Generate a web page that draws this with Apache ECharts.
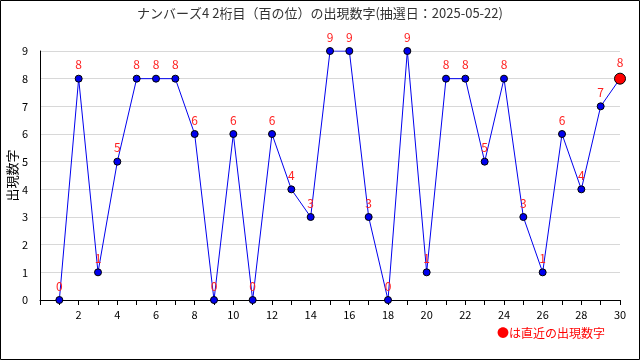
<!DOCTYPE html>
<html><head><meta charset="utf-8">
<script src="https://cdn.jsdelivr.net/npm/echarts@6/dist/echarts.min.js"></script>
<style>html,body{margin:0;padding:0;background:#fff}#c{width:640px;height:360px}</style>
</head><body><div id="c"></div>
<script>
var draws = [1,2,3,4,5,6,7,8,9,10,11,12,13,14,15,16,17,18,19,20,21,22,23,24,25,26,27,28,29,30];
var digits = [0,8,1,5,8,8,8,6,0,6,0,6,4,3,9,9,3,0,9,1,8,8,5,8,3,1,6,4,7,8];
var titleText = 'ナンバーズ4 2桁目（百の位）の出現数字(抽選日：2025-05-22)';
var yName = '出現数字';
var noteText = '●は直近の出現数字';

var font = '"Noto Sans CJK JP", "DejaVu Sans", sans-serif';
var pts = draws.map(function(d,i){
  var last = i === draws.length-1;
  return {value:[d,digits[i]], symbolSize: last?11:7,
    itemStyle:{color: last?'#ff0000':'#0000ee', borderColor:'#000', borderWidth:1}};
});
var chart = echarts.init(document.getElementById('c'));
chart.setOption({
  animation:false,
  title:{text:titleText,left:'center',top:2,textStyle:{fontSize:13,fontWeight:'normal',color:'#333',fontFamily:font}},
  grid:{left:40,right:20,top:51,bottom:60,containLabel:false,outerBoundsMode:'none'},
  xAxis:{type:'value',min:0,max:30,interval:1,
    axisLine:{lineStyle:{color:'#000'}},
    axisTick:{show:true,length:5,lineStyle:{color:'#000'}},
    axisLabel:{color:'#000',fontSize:11,fontFamily:font,margin:9,
      formatter:function(v){return (v>0 && v%2===0)?String(v):'';}},
    splitLine:{show:false}},
  yAxis:{type:'value',min:0,max:9,interval:1,name:yName,nameLocation:'middle',nameGap:21,nameMoveOverlap:false,
    nameTextStyle:{fontSize:13,color:'#000',fontFamily:font},
    axisLine:{show:true,lineStyle:{color:'#000'}},
    axisTick:{show:false},
    axisLabel:{color:'#000',fontSize:11,fontFamily:font,margin:12},
    splitLine:{lineStyle:{color:'#d8d8d8'}}},
  series:[{type:'line',data:pts,symbol:'circle',
    lineStyle:{color:'#0000ee',width:1},
    label:{show:true,position:'top',distance:4,color:'#ff2020',fontSize:12,fontFamily:font,
      formatter:function(p){return String(p.value[1]);}},
    z:3}],
  graphic:[
    {type:'rect',shape:{x:0.5,y:0.5,width:639,height:359},style:{fill:'none',stroke:'#000',lineWidth:1},silent:true},
    {type:'text',right:35,top:327,style:{text:noteText,fill:'#ff0000',font:'12px '+font}}
  ]
});
</script></body></html>
